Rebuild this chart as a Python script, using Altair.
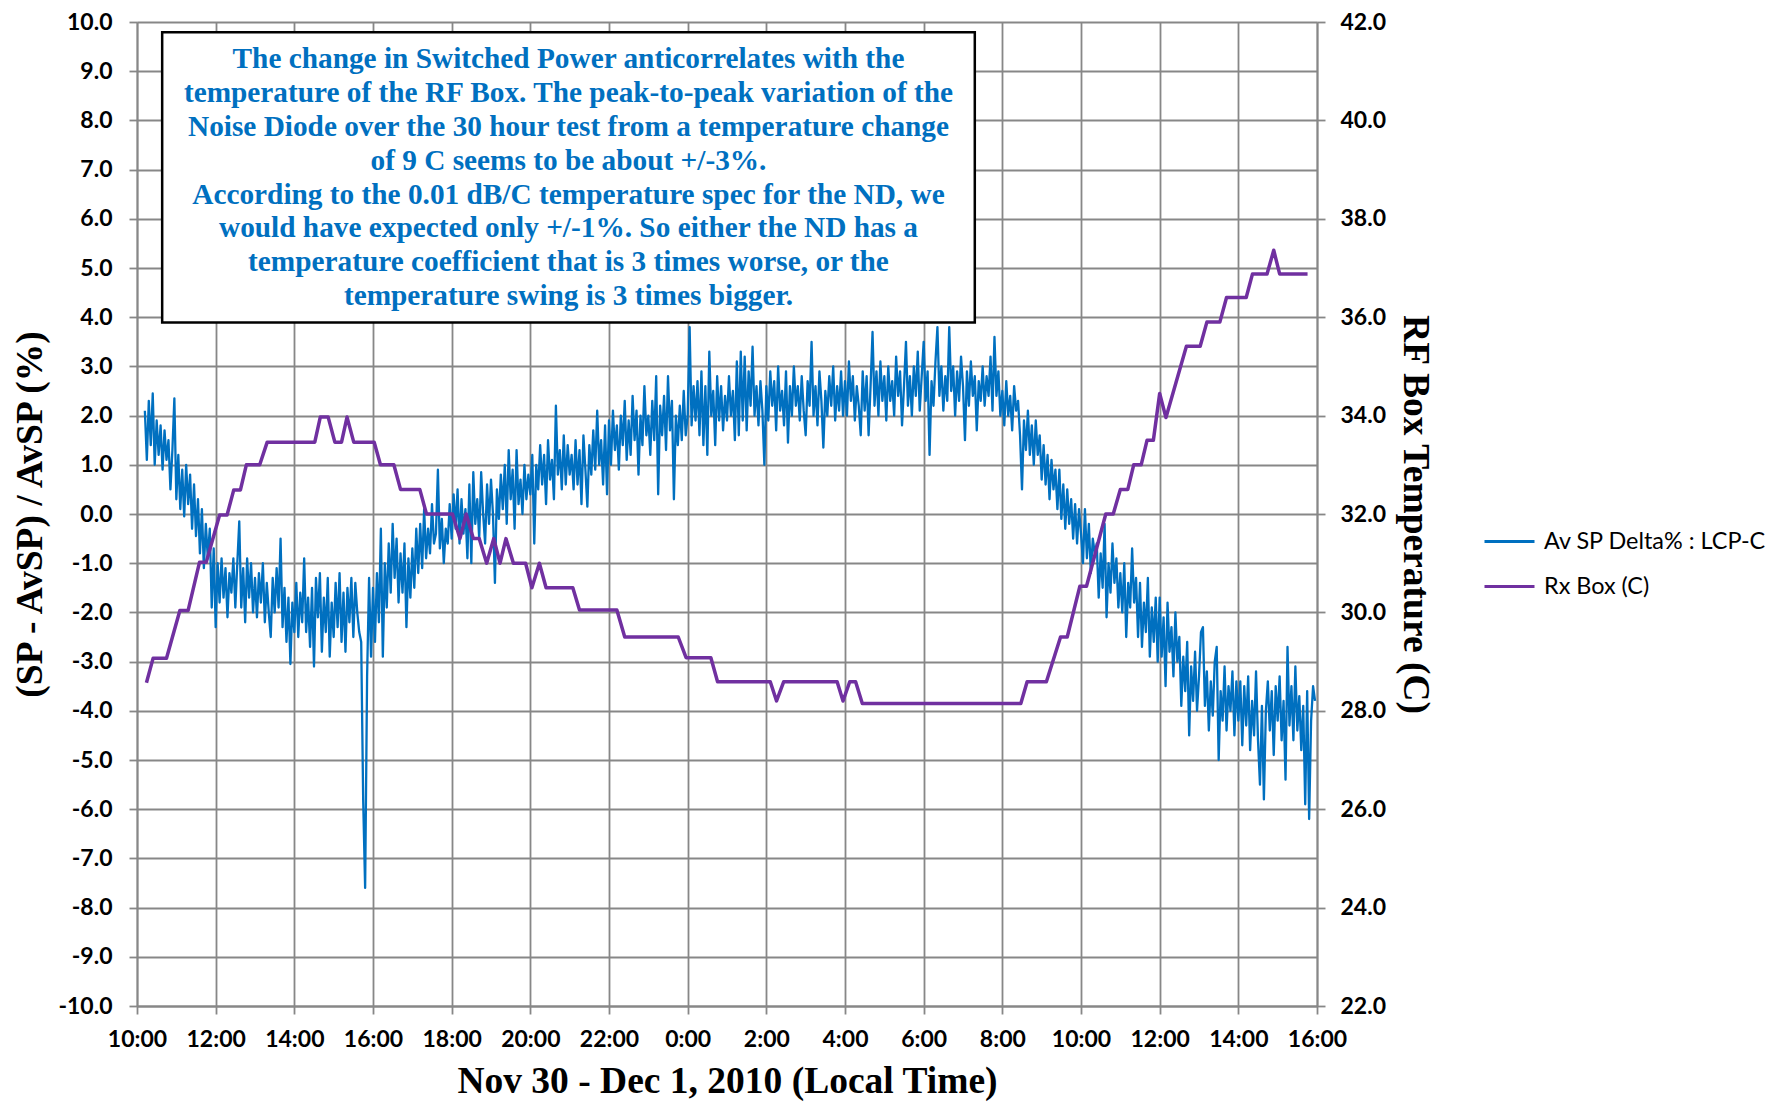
import altair as alt
import pandas as pd

# ---------------- data (hours since Nov 30 10:00 local) ----------------
SERIES_SP = "Av SP Delta% : LCP-C"
SERIES_RX = "Rx Box (C)"

SP_STEP = 0.05  # sample spacing of the switched-power series, hours

sp_a_start = 0.20
sp_a = [2.1, 1.1, 2.3, 1.4, 2.45, 1.0, 1.9, 1.2, 1.8, 0.9, 1.7, 1.1, 1.5, 0.5, 1.3, 2.35,
        0.3, 1.2, 0.1, 0.9, -0.05, 1.0, 0.2, 0.8, -0.3, 0.6, -0.45, 0.3, -0.8, 0.1, -1.1, -0.2, -0.9, -0.3, -1.9, -0.7,
        -2.3, -1.0, -1.8, -0.9, -1.7, -1.1, -2.1, -1.2, -1.6, -0.9, -1.9, -1.0, -0.15, -1.9, -1.1, -2.2, -0.9, -1.7, -1.0, -2.0,
        -1.3, -2.1, -1.2, -1.8, -1.0, -2.2, -1.4, -2.0, -2.5, -1.3, -2.0, -1.1, -1.9, -0.5, -2.3, -1.5, -2.6, -1.7, -3.05, -1.8,
        -2.4, -1.4, -2.5, -1.6, -2.2, -0.9, -2.4, -1.7, -2.7, -1.5, -3.1, -1.3, -2.1, -1.2, -2.8, -1.7, -2.4, -1.3, -2.9, -1.8]

sp_b_start = 5.00
sp_b = [-2.5, -1.4, -2.3, -1.2, -2.6, -1.6, -2.8, -1.5, -2.2, -1.3, -2.5, -1.4, -2.0, -2.4, -2.6, -5.8, -7.6, -3.3, -1.3, -2.9,
        -1.5, -2.6, -1.2, -2.2, -0.3, -2.9, -1.0, -1.9, -0.6, -1.6, -0.2, -1.3, -0.5, -1.8, -0.8, -1.6, -0.6, -2.3, -0.9, -1.7,
        -0.7, -1.5, -0.3, -1.2, -0.2, -1.1, 0.1, -0.9, -0.3, -0.8, 0.2, -0.6, -0.4, 0.9, -0.7, -0.1, -1.0, -0.3, -0.6, 0.2,
        -0.5, 0.4, -0.3, 0.5, -0.6, 0.3, -0.4, 0.1, -0.9, 0.6, -1.0, 0.85, -0.2, 0.3, -0.5, 0.85, 0.0, -0.6, 0.6, -0.2,
        0.7, 0.0, -1.4, 0.5, -0.1, 0.8, 0.1, 1.0, -0.2, 1.3, 0.3, 0.9, -0.3, 1.3, 0.2, 0.7, 0.0, 1.0, 0.3, 0.8]

sp_c_start = 10.00
sp_c = [0.4, 1.2, -0.6, 1.0, 0.5, 1.4, 0.6, 1.2, 0.2, 1.5, 0.7, 1.1, 0.3, 2.2, 0.8, 1.3, 0.5, 1.6, 0.6, 1.4,
        0.8, 1.2, 0.5, 1.5, 0.6, 1.3, 0.2, 1.6, 0.9, 0.15, 1.4, 0.8, 1.7, 0.9, 2.1, 1.0, 1.5, 0.6, 1.8, 0.4,
        1.9, 1.0, 2.1, 1.3, 1.8, 0.9, 2.0, 1.4, 2.3, 1.1, 1.9, 1.2, 2.4, 1.5, 2.1, 0.8, 2.0, 1.4, 2.6, 1.6,
        2.0, 1.2, 2.3, 1.5, 2.8, 0.4, 2.2, 1.6, 2.4, 1.3, 2.8, 1.7, 2.3, 0.3, 2.0, 1.4, 2.2, 1.5, 2.5, 1.6,
        2.0, 3.8, 1.8, 2.6, 1.9, 2.7, 1.6, 2.9, 1.4, 2.6, 1.2, 3.3, 2.0, 2.5, 1.4, 2.8, 1.9, 2.6, 1.7, 2.4]

sp_d_start = 15.00
sp_d = [1.9, 2.8, 2.0, 2.5, 1.5, 3.1, 1.6, 3.3, 1.9, 3.2, 1.7, 2.9, 2.2, 3.4, 2.0, 2.6, 1.8, 2.7, 2.1, 1.0,
        2.6, 1.9, 2.9, 2.2, 2.7, 1.7, 3.0, 2.1, 2.5, 1.8, 2.9, 1.45, 2.6, 2.0, 3.0, 2.2, 2.6, 1.9, 2.8, 2.1,
        1.6, 2.7, 2.2, 3.5, 2.0, 2.6, 1.8, 2.9, 2.3, 1.35, 2.5, 2.0, 2.8, 2.2, 3.0, 1.9, 2.6, 2.1, 2.9, 2.0,
        2.7, 2.0, 3.1, 2.3, 2.8, 1.9, 2.6, 2.2, 1.6, 2.9, 2.1, 2.8, 1.6, 2.6, 3.7, 2.2, 2.9, 2.0, 3.1, 2.3,
        2.8, 1.9, 3.0, 2.3, 2.7, 2.0, 3.2, 2.4, 2.9, 1.8, 2.6, 3.5, 2.2, 2.8, 2.0, 3.0, 2.4, 3.3, 2.1, 2.8]

sp_e_start = 20.00
sp_e = [3.5, 2.3, 2.9, 1.2, 2.7, 2.2, 3.1, 3.8, 2.4, 3.0, 2.1, 2.8, 2.3, 3.8, 2.5, 3.0, 2.0, 2.9, 2.3, 3.2,
        2.6, 1.5, 2.9, 2.2, 3.1, 2.4, 2.8, 1.7, 2.7, 2.3, 3.0, 2.2, 2.8, 2.4, 3.2, 2.1, 3.6, 2.4, 2.9, 2.0,
        2.5, 1.8, 2.7, 2.0, 2.4, 1.7, 2.6, 2.1, 2.3, 1.6, 0.5, 1.9, 1.3, 2.1, 1.2, 1.8, 1.0, 1.9, 1.2, 1.6,
        0.7, 1.4, 0.6, 1.2, 0.3, 1.1, 0.5, 0.9, 0.1, 0.9, -0.1, 0.6, -0.3, 0.5, -0.2, 0.3, -0.5, 0.2, -0.6, 0.1,
        -0.4, -1.0, 0.1, -0.9, -0.2, -1.2, -0.5, -0.8, -0.6, -1.7, -0.8, -1.5, -0.2, -2.1, -1.0, -1.6, -0.6, -1.4, -0.9, -1.9]

sp_f_start = 25.00
sp_f = [-1.2, -2.0, -1.0, -2.5, -1.4, -1.9, -0.7, -1.8, -1.3, -2.5, -1.4, -2.7, -1.8, -2.4, -1.3, -2.9, -1.9, -2.6, -1.7, -3.0,
        -1.7, -2.9, -2.1, -3.5, -1.8, -2.8, -2.3, -3.3, -2.0, -3.0, -2.5, -3.9, -2.9, -3.6, -2.6, -4.5, -3.1, -3.8, -2.8, -4.0,
        -3.3, -2.4, -2.3, -3.9, -3.2, -4.4, -3.4, -4.1, -3.0, -2.7, -5.0, -3.6, -4.2, -3.1, -4.4, -3.5, -4.0, -3.2, -4.5, -3.4,
        -4.2, -3.4, -4.7, -3.5, -4.3, -3.3, -4.8, -3.8, -4.5, -3.2, -4.6, -5.5, -3.9, -5.8, -4.0, -3.4, -4.4, -3.6, -4.9, -3.5,
        -4.2, -3.3, -4.6, -3.8, -5.4, -2.7, -4.3, -3.5, -4.6, -3.1, -4.4, -3.7, -4.8, -3.9, -5.9, -3.6, -6.2, -4.2, -3.5, -3.8]

# Rx Box temperature (C): vertices of the stepped trace
rx_hours = [0.24, 0.41, 0.75, 1.09, 1.30, 1.59, 1.76, 2.10, 2.29, 2.46, 2.63, 2.78, 3.12, 3.31, 4.52, 4.66,
            4.86, 5.03, 5.20, 5.34, 5.51, 6.03, 6.19, 6.53, 6.70, 7.19, 7.36, 8.02, 8.21, 8.37, 8.55, 8.70,
            8.89, 9.07, 9.23, 9.38, 9.57, 9.88, 10.04, 10.23, 10.40, 11.08, 11.25, 12.20, 12.40, 13.76, 13.96,
            14.59, 14.76, 16.10, 16.26, 16.44, 17.80, 17.95, 18.12, 18.27, 18.44, 22.47, 22.63, 23.12, 23.48,
            23.65, 23.97, 24.14, 24.63, 24.82, 25.00, 25.19, 25.34, 25.53, 25.68, 25.84, 26.00, 26.16, 26.68,
            27.03, 27.20, 27.53, 27.70, 28.20, 28.36, 28.73, 28.90, 29.05, 29.76]
rx_temp = [28.57, 29.07, 29.07, 30.04, 30.04, 31.02, 31.02, 31.98, 31.98, 32.49, 32.49, 33.0, 33.0, 33.46, 33.46, 33.97,
           33.97, 33.46, 33.46, 33.97, 33.46, 33.46, 33.0, 33.0, 32.5, 32.5, 32.0, 32.0, 31.5, 32.0, 31.5, 31.5,
           31.0, 31.5, 31.0, 31.5, 31.0, 31.0, 30.5, 31.0, 30.5, 30.5, 30.05, 30.05, 29.5, 29.5, 29.08,
           29.08, 28.59, 28.59, 28.2, 28.59, 28.59, 28.2, 28.59, 28.59, 28.15, 28.15, 28.59, 28.59, 29.5,
           29.5, 30.53, 30.53, 32.0, 32.0, 32.5, 32.5, 33.0, 33.0, 33.5, 33.5, 34.45, 33.96, 35.41,
           35.41, 35.9, 35.9, 36.4, 36.4, 36.88, 36.88, 37.36, 36.88, 36.88]

x_tick_hours = list(range(0, 31, 2))
left_ticks = list(range(-10, 11))
right_ticks = list(range(22, 43, 2))

box_lines = [
    "The change in Switched Power anticorrelates with the",
    "temperature of the RF Box. The peak-to-peak variation of the",
    "Noise Diode over the 30 hour test from a temperature change",
    "of 9 C seems to be about +/-3%.",
    "According to the 0.01 dB/C temperature spec for the ND, we",
    "would have expected only +/-1%. So either the ND has a",
    "temperature coefficient that is 3 times worse, or the",
    "temperature swing is 3 times bigger.",
]

# annotation box extent, in axis units (hours, left-axis %)
box_x = [0.64, 21.3]
box_y = [3.89, 9.79]
box_text_pos = [10.97, 9.24]   # centre of the first text line

# ---------------- build tables ----------------
rows = []
for start, vals in [(sp_a_start, sp_a), (sp_b_start, sp_b), (sp_c_start, sp_c),
                    (sp_d_start, sp_d), (sp_e_start, sp_e), (sp_f_start, sp_f)]:
    for i, v in enumerate(vals):
        rows.append({"h": round(start + i * SP_STEP, 3), "v": v, "series": SERIES_SP})
df_sp = pd.DataFrame(rows)
df_rx = pd.DataFrame({"h": rx_hours, "t": rx_temp, "series": SERIES_RX})
df_box = pd.DataFrame({"x1": [box_x[0]], "x2": [box_x[1]], "y1": [box_y[0]], "y2": [box_y[1]]})
df_txt = pd.DataFrame({"tx": [box_text_pos[0]], "ty": [box_text_pos[1]]})

W, H = 1180, 984
BLUE, PURPLE = "#0070C0", "#7030A0"

xscale = alt.Scale(domain=[0, 30], nice=False, zero=False)
yscale = alt.Scale(domain=[-10, 10], nice=False, zero=False)
tscale = alt.Scale(domain=[22, 42], nice=False, zero=False)
cscale = alt.Scale(domain=[SERIES_SP, SERIES_RX], range=[BLUE, PURPLE])

hyphen_fmt = "(datum.value < 0 ? '-' : '') + format(abs(datum.value), '.1f')"

x_axis = alt.Axis(
    values=x_tick_hours, labelExpr="((datum.value + 10) % 24) + ':00'",
    labelOverlap=False, labelFlush=False,
    title="Nov 30 - Dec 1, 2010 (Local Time)", titleX=W / 2, titleY=75,
    titleAlign="center", titleBaseline="middle", labelPadding=14, grid=True)
y_axis = alt.Axis(
    values=left_ticks, labelExpr=hyphen_fmt, labelOverlap=False, labelFlush=False,
    title="(SP - AvSP) / AvSP (%)",
    titleX=-107, titleY=H / 2, titleAngle=-90, titleAlign="center",
    titleBaseline="middle", labelPadding=17, grid=True)
t_axis = alt.Axis(
    orient="right", values=right_ticks, format=".1f", grid=False,
    labelOverlap=False, labelFlush=False,
    title="RF Box Temperature (C)", titleX=97, titleY=H / 2, titleAngle=90,
    titleAlign="center", titleBaseline="middle", labelPadding=15)

legend = alt.Legend(title=None, orient="none", legendX=1346, legendY=493,
                    symbolType="stroke", symbolSize=2500, symbolStrokeWidth=3,
                    labelFont="Lato", labelFontSize=23.4, labelColor="black",
                    labelOffset=8, labelLimit=0, rowPadding=7, padding=0)

sp_line = alt.Chart(df_sp).mark_line(strokeWidth=2.3, strokeJoin="round").encode(
    x=alt.X("h:Q", scale=xscale, axis=x_axis),
    y=alt.Y("v:Q", scale=yscale, axis=y_axis),
    color=alt.Color("series:N", scale=cscale, legend=legend),
)

box = alt.Chart(df_box).mark_rect(fill="white", stroke="black", strokeWidth=2.5).encode(
    x=alt.X("x1:Q", scale=xscale, axis=x_axis), x2="x2:Q",
    y=alt.Y("y1:Q", scale=yscale, axis=y_axis), y2="y2:Q",
)

box_text = alt.Chart(df_txt).mark_text(
    text=box_lines, align="center", baseline="middle", font="Liberation Serif",
    fontWeight="bold", fontSize=29.3, lineHeight=33.8, color=BLUE,
).encode(
    x=alt.X("tx:Q", scale=xscale, axis=x_axis),
    y=alt.Y("ty:Q", scale=yscale, axis=y_axis),
)

left_group = alt.layer(sp_line, box, box_text)

rx_line = alt.Chart(df_rx).mark_line(strokeWidth=3.5, strokeJoin="round").encode(
    x=alt.X("h:Q", scale=xscale, axis=x_axis),
    y=alt.Y("t:Q", scale=tscale, axis=t_axis),
    color=alt.Color("series:N", scale=cscale, legend=legend),
)

chart = alt.layer(left_group, rx_line).resolve_scale(y="independent").properties(
    width=W, height=H,
    autosize=alt.AutoSizeParams(type="none"),
    padding={"left": 129, "top": 14, "right": 457, "bottom": 104},
).configure_view(stroke=None).configure_axis(
    gridColor="#878787", gridWidth=1.8, domainColor="#878787", domainWidth=1.8,
    tickColor="#878787", tickWidth=1.8, tickSize=8,
    labelFont="Lato", labelFontWeight="bold", labelFontSize=23, labelColor="black",
    titleFont="Liberation Serif", titleFontWeight="bold", titleFontSize=37.5, titleColor="black",
)

chart.save("out.html", embed_options={"renderer": "svg", "actions": False})
